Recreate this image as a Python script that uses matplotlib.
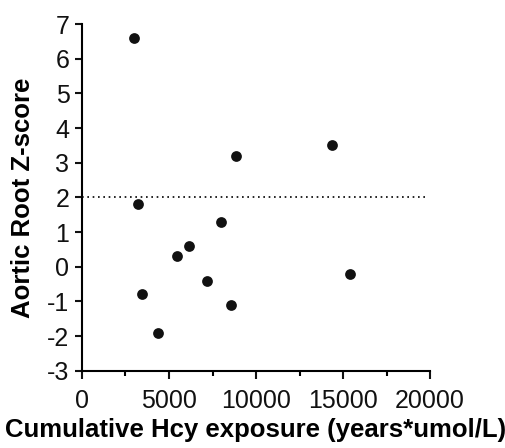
import numpy as np
import matplotlib.pyplot as plt
from matplotlib.ticker import MultipleLocator

plt.rcParams['font.family'] = ['Liberation Sans', 'DejaVu Sans']
plt.rcParams['axes.unicode_minus'] = False

# Hcy exposure vs aortic root z-score
hcy_exposure = [3000, 3240, 3450, 4390, 5440, 6150, 7200, 8010, 8560, 8850, 14370, 15400]
z_score = [6.6, 1.8, -0.8, -1.9, 0.3, 0.6, -0.4, 1.3, -1.1, 3.2, 3.5, -0.2]
threshold = 2

fig = plt.figure(figsize=(5.06, 4.48), dpi=100)
ax = fig.add_axes([0.162, 0.1725, 0.688, 0.7735])

ax.scatter(hcy_exposure, z_score, s=60, color='#111111', zorder=3, linewidths=0)
ax.plot([0, 19850], [threshold, threshold], linestyle=(0, (1, 2.2)), color='black', linewidth=1.2)

ax.set_xlim(0, 20000)
ax.set_ylim(-3, 7)
ax.xaxis.set_major_locator(MultipleLocator(5000))
ax.xaxis.set_minor_locator(MultipleLocator(2500))
ax.yaxis.set_major_locator(MultipleLocator(1))

for s in ['top', 'right']:
    ax.spines[s].set_visible(False)
for s in ['left', 'bottom']:
    ax.spines[s].set_linewidth(1.5)

ax.tick_params(axis='both', which='major', width=1.5, labelsize=18, colors='#111111')
ax.tick_params(axis='y', which='major', length=5, pad=4)
ax.tick_params(axis='x', which='major', length=6, pad=7)
ax.tick_params(axis='x', which='minor', length=3.5, width=1.5)

ax.set_xlabel('Cumulative Hcy exposure (years*umol/L)', fontsize=18.5, fontweight='bold', labelpad=4)
ax.set_ylabel('Aortic Root Z-score', fontsize=18.5, fontweight='bold', labelpad=9)

fig.savefig('out.png', dpi=100)
